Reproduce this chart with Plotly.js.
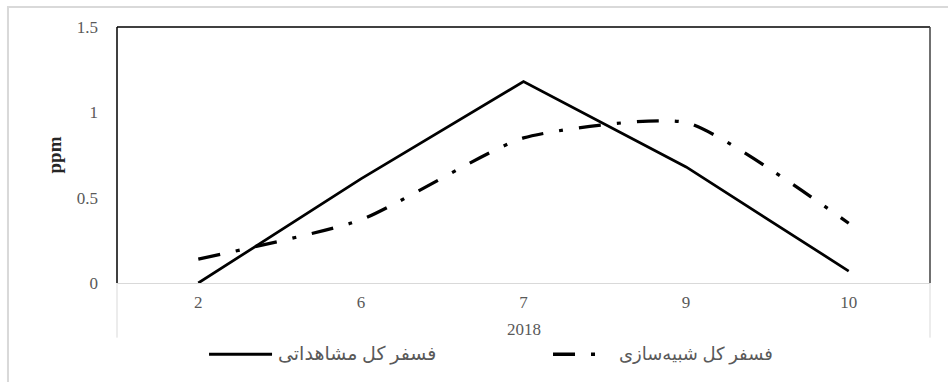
<!DOCTYPE html>
<html>
<head>
<meta charset="utf-8">
<script src="https://cdn.plot.ly/plotly-3.0.1.min.js"></script>
<style>
  html, body { margin: 0; padding: 0; background: #ffffff; }
  #chart { width: 948px; height: 382px; }
</style>
</head>
<body>
<div id="chart"></div>
<script>
// Monthly total phosphorus, 2018 (ppm)
const months = ['2', '6', '7', '9', '10'];
const yearLabel = '2018';
const observed = [0.00, 0.61, 1.18, 0.68, 0.07];
const simulated = [0.14, 0.37, 0.85, 0.94, 0.35];
const observedName = 'فسفر کل مشاهداتی';
const simulatedName = 'فسفر کل شبیه\u200cسازی';
const yTickVals = [0, 0.5, 1, 1.5];
const yTickText = ['0', '0.5', '1', '1.5'];
const yTitle = 'ppm';

const serif = '"Times New Roman", "Liberation Serif", "DejaVu Serif", serif';
const arabicFont = '"Times New Roman", "Liberation Serif", "DejaVu Sans", serif';
const grey = '#595959';
const dashDot = '22px,16px,4px,16px';

const traces = [
  {
    x: months, y: observed, name: observedName,
    type: 'scatter', mode: 'lines',
    line: { color: '#000000', width: 2.75 },
    showlegend: false, hoverinfo: 'x+y'
  },
  {
    x: months, y: simulated, name: simulatedName,
    type: 'scatter', mode: 'lines',
    line: { color: '#000000', width: 3.25, dash: dashDot, shape: 'spline', smoothing: 0.55 },
    showlegend: false, hoverinfo: 'x+y'
  }
];

// legend keys drawn in paper space below the category band
const legendY = -0.278;
const shapes = [
  // outer chart border
  { type: 'rect', xref: 'paper', yref: 'paper', x0: -0.1341, x1: 1.06, y0: -0.45, y1: 1.078,
    line: { color: '#d9d9d9', width: 2 }, layer: 'below' },
  // plot frame
  { type: 'line', xref: 'paper', yref: 'paper', x0: 0, x1: 1, y0: 1, y1: 1,
    line: { color: '#000000', width: 1.5 } },
  { type: 'line', xref: 'paper', yref: 'paper', x0: 0, x1: 0, y0: 0, y1: 1,
    line: { color: '#000000', width: 1.5 } },
  { type: 'line', xref: 'paper', yref: 'paper', x0: 1, x1: 1, y0: 0, y1: 1,
    line: { color: '#404040', width: 1.5 } },
  // category band edges
  { type: 'line', xref: 'paper', yref: 'paper', x0: 0, x1: 0, y0: 0, y1: -0.2134,
    line: { color: '#d9d9d9', width: 1 } },
  { type: 'line', xref: 'paper', yref: 'paper', x0: 1, x1: 1, y0: 0, y1: -0.2134,
    line: { color: '#d9d9d9', width: 1 } },
  // legend keys
  { type: 'line', xref: 'paper', yref: 'paper', x0: 0.1132, x1: 0.1907, y0: legendY, y1: legendY,
    line: { color: '#000000', width: 3 } },
  { type: 'line', xref: 'paper', yref: 'paper', x0: 0.5363, x1: 0.5930, y0: legendY, y1: legendY,
    line: { color: '#000000', width: 3.5, dash: dashDot } }
];

const annotations = [
  { xref: 'paper', yref: 'paper', x: 0.5, y: -0.183, text: yearLabel, showarrow: false,
    xanchor: 'center', yanchor: 'middle', font: { family: serif, size: 17, color: grey } },
  { xref: 'paper', yref: 'paper', x: 0.1956, y: legendY, text: observedName, showarrow: false,
    xanchor: 'left', yanchor: 'middle', font: { family: arabicFont, size: 19, color: grey } },
  { xref: 'paper', yref: 'paper', x: 0.615, y: legendY, text: simulatedName, showarrow: false,
    xanchor: 'left', yanchor: 'middle', font: { family: arabicFont, size: 18, color: grey } }
];

const layout = {
  width: 948, height: 382,
  margin: { l: 117, r: 18, t: 27, b: 99, pad: 0 },
  paper_bgcolor: '#ffffff', plot_bgcolor: '#ffffff',
  showlegend: false,
  xaxis: {
    type: 'category', range: [-0.5, 4.5], fixedrange: true,
    showgrid: false, showline: false, zeroline: false, ticks: '',
    ticklabelstandoff: 7,
    tickfont: { family: serif, size: 17, color: grey }
  },
  yaxis: {
    range: [0, 1.5], tickvals: yTickVals, ticktext: yTickText, fixedrange: true,
    showgrid: false, showline: false, ticks: '',
    zeroline: true, zerolinecolor: '#d9d9d9', zerolinewidth: 1,
    ticklabelstandoff: 18,
    tickfont: { family: serif, size: 17, color: grey },
    title: { text: yTitle, standoff: 10, font: { family: serif, size: 19, color: '#262626', weight: 'bold' } }
  },
  shapes: shapes,
  annotations: annotations
};

Plotly.newPlot('chart', traces, layout, { displayModeBar: false, staticPlot: true });
</script>
</body>
</html>
